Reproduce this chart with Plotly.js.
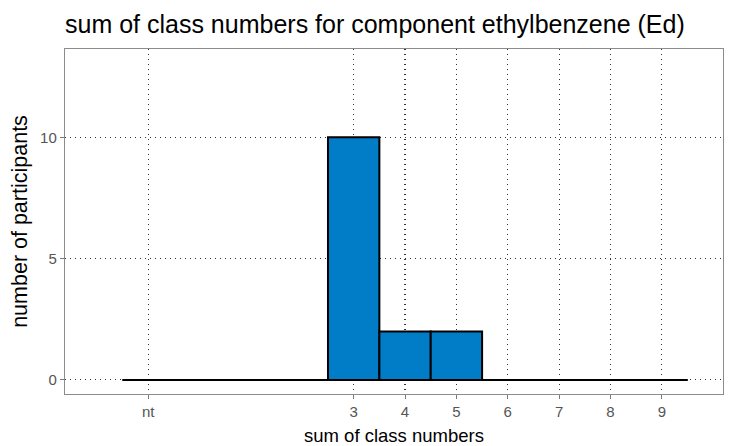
<!DOCTYPE html>
<html>
<head>
<meta charset="utf-8">
<script src="https://cdn.plot.ly/plotly-3.0.1.min.js"></script>
<style>html,body{margin:0;padding:0;background:#fff;}#chart{width:742px;height:446px;}</style>
</head>
<body>
<div id="chart"></div>
<script>
const classSums = [-1, 0, 1, 2, 3, 4, 5, 6, 7, 8, 9];
const participants = [0, 0, 0, 0, 10, 2, 2, 0, 0, 0, 0];
const tickVals = [-1, 3, 4, 5, 6, 7, 8, 9];
const tickLabels = ['nt', '3', '4', '5', '6', '7', '8', '9'];
const yTickVals = [0, 5, 10];

const FONT = 'Liberation Sans, Arial, sans-serif';

const barTrace = {
  type: 'bar',
  x: classSums,
  y: participants,
  width: 1,
  marker: {color: '#007DC6', line: {color: '#000000', width: 2}},
  hoverinfo: 'x+y'
};
// zero-height bars drawn as a baseline (as ggplot does)
const baseTrace = {
  type: 'scatter',
  mode: 'lines',
  x: [classSums[0] - 0.5, classSums[classSums.length - 1] + 0.5],
  y: [0, 0],
  line: {color: '#000000', width: 2},
  hoverinfo: 'skip'
};

const axisCommon = {
  showline: true, mirror: true, linecolor: '#8c8c8c', linewidth: 1.2,
  ticks: 'outside', ticklen: 4, tickcolor: '#7a7a7a', tickwidth: 1,
  showgrid: true, gridcolor: '#333333', gridwidth: 1.1, griddash: '1.2px,3.8px',
  zeroline: false,
  tickfont: {family: FONT, size: 15, color: '#555555'}
};

const layout = {
  width: 742, height: 446,
  margin: {l: 65, r: 19, t: 49, b: 52},
  paper_bgcolor: '#ffffff', plot_bgcolor: '#ffffff',
  showlegend: false,
  font: {family: FONT},
  title: {
    text: 'sum of class numbers for component ethylbenzene (Ed)',
    x: 0, xref: 'paper', xanchor: 'left',
    y: 1 - 24 / 446, yref: 'container', yanchor: 'middle',
    font: {family: FONT, size: 25, color: '#000000'}
  },
  xaxis: Object.assign({}, axisCommon, {
    range: [-2.62, 10.19],
    tickmode: 'array', tickvals: tickVals, ticktext: tickLabels,
    title: {text: 'sum of class numbers', standoff: 9,
      font: {family: FONT, size: 18.5, color: '#000000'}}
  }),
  yaxis: Object.assign({}, axisCommon, {
    range: [-0.58, 13.64],
    tickmode: 'array', tickvals: yTickVals, ticktext: yTickVals.map(String),
    title: {text: 'number of participants', standoff: 6,
      font: {family: FONT, size: 21.5, color: '#000000'}}
  })
};

Plotly.newPlot('chart', [barTrace, baseTrace], layout, {displayModeBar: false, staticPlot: true});
</script>
</body>
</html>
